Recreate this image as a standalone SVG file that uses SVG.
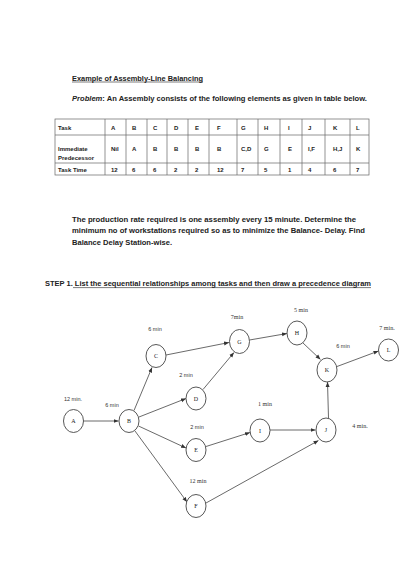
<svg xmlns="http://www.w3.org/2000/svg" width="406" height="575" viewBox="0 0 406 575">
<defs>
<style>
.t{font-family:"Liberation Sans",Arial,sans-serif;font-weight:bold;fill:#222;}
.h{font-size:7px;}
.tb{font-size:6px;}
.p{font-size:6.6px;}
.grid{stroke:#666;stroke-width:0.7;fill:none;}
.n{fill:#fff;stroke:#444;stroke-width:0.9;}
.nl{font-family:"Liberation Serif","Times New Roman",serif;font-size:6px;fill:#222;text-anchor:middle;}
.ms{font-family:"Liberation Serif","Times New Roman",serif;font-size:6px;fill:#333;text-anchor:middle;}
.mc{font-family:"Liberation Sans",Arial,sans-serif;font-size:5.5px;fill:#333;text-anchor:middle;}
.e{stroke:#444;stroke-width:0.8;fill:none;marker-end:url(#ah);}
.ul{stroke:#222;stroke-width:0.6;}
</style>
<marker id="ah" viewBox="0 0 10 10" refX="10" refY="5" markerWidth="5" markerHeight="5" orient="auto" markerUnits="userSpaceOnUse">
<path d="M0,1 L10,5 L0,9 z" fill="#333"/>
</marker>
</defs>
<rect width="406" height="575" fill="#fff"/>

<g id="header">
<text class="t h" x="72" y="80.5" textLength="131" lengthAdjust="spacingAndGlyphs">Example of Assembly-Line Balancing</text>
<line class="ul" x1="72" y1="82" x2="203" y2="82"/>
<text class="t h" x="72" y="100.5" textLength="295" lengthAdjust="spacingAndGlyphs"><tspan font-style="italic">Problem</tspan>:  An Assembly consists of the  following  elements as given in table below.</text>
</g>

<g id="table">
<rect class="grid" x="55" y="119" width="314" height="56"/>
<line class="grid" x1="55" y1="135" x2="369" y2="135"/>
<line class="grid" x1="55" y1="163" x2="369" y2="163"/>
<g class="grid">
<line x1="105" y1="119" x2="105" y2="175"/><line x1="126" y1="119" x2="126" y2="175"/>
<line x1="147" y1="119" x2="147" y2="175"/><line x1="167" y1="119" x2="167" y2="175"/>
<line x1="188" y1="119" x2="188" y2="175"/><line x1="209" y1="119" x2="209" y2="175"/>
<line x1="237" y1="119" x2="237" y2="175"/><line x1="258" y1="119" x2="258" y2="175"/>
<line x1="280" y1="119" x2="280" y2="175"/><line x1="302" y1="119" x2="302" y2="175"/>
<line x1="325" y1="119" x2="325" y2="175"/><line x1="350" y1="119" x2="350" y2="175"/>
</g>
<g class="t tb">
<text x="58" y="129.5">Task</text>
<text x="111" y="129.5">A</text><text x="132" y="129.5">B</text><text x="153" y="129.5">C</text>
<text x="174" y="129.5">D</text><text x="195" y="129.5">E</text><text x="217" y="129.5">F</text>
<text x="241" y="129.5">G</text><text x="264" y="129.5">H</text><text x="288" y="129.5">I</text>
<text x="308" y="129.5">J</text><text x="333" y="129.5">K</text><text x="356" y="129.5">L</text>
<text x="58" y="150.5">Immediate</text><text x="58" y="159.5">Predecessor</text>
<text x="111" y="150.5">Nil</text><text x="132" y="150.5">A</text><text x="153" y="150.5">B</text>
<text x="174" y="150.5">B</text><text x="195" y="150.5">B</text><text x="217" y="150.5">B</text>
<text x="241" y="150.5">C,D</text><text x="264" y="150.5">G</text><text x="288" y="150.5">E</text>
<text x="308" y="150.5">I,F</text><text x="333" y="150.5">H,J</text><text x="356" y="150.5">K</text>
<text x="58" y="171.5">Task Time</text>
<text x="111" y="171.5">12</text><text x="132" y="171.5">6</text><text x="153" y="171.5">6</text>
<text x="174" y="171.5">2</text><text x="195" y="171.5">2</text><text x="217" y="171.5">12</text>
<text x="241" y="171.5">7</text><text x="264" y="171.5">5</text><text x="288" y="171.5">1</text>
<text x="308" y="171.5">4</text><text x="333" y="171.5">6</text><text x="356" y="171.5">7</text>
</g>
</g>

<g id="problem-text">
<text class="t p" x="72" y="221.5" textLength="284" lengthAdjust="spacingAndGlyphs">The production rate required is  one assembly every  15 minute. Determine the</text>
<text class="t p" x="72" y="233" textLength="293" lengthAdjust="spacingAndGlyphs">minimum no of workstations required  so as to minimize the Balance- Delay. Find</text>
<text class="t p" x="72" y="244.5" textLength="100" lengthAdjust="spacingAndGlyphs">Balance Delay  Station-wise.</text>
</g>

<g id="step1">
<text class="t h" x="45" y="286" textLength="326" lengthAdjust="spacingAndGlyphs">STEP 1. List the sequential relationships among tasks and then draw a precedence diagram</text>
<line class="ul" x1="73" y1="287.6" x2="371" y2="287.6"/>
</g>

<g id="connectors">
<line class="e" x1="83.5" y1="421" x2="118.5" y2="421"/>
<line class="e" x1="134" y1="410.5" x2="152" y2="367.5"/>
<line class="e" x1="139" y1="417" x2="186" y2="398.5"/>
<line class="e" x1="138.5" y1="426" x2="186" y2="448"/>
<line class="e" x1="135" y1="431" x2="187" y2="502"/>
<line class="e" x1="166" y1="355" x2="229" y2="342.5"/>
<line class="e" x1="203" y1="389.5" x2="234" y2="352.5"/>
<line class="e" x1="249.5" y1="340" x2="287" y2="333.5"/>
<line class="e" x1="303" y1="343" x2="320.5" y2="359.5"/>
<line class="e" x1="337" y1="366.5" x2="378.5" y2="351"/>
<line class="e" x1="206" y1="446.5" x2="250" y2="432.5"/>
<line class="e" x1="270" y1="430" x2="315.5" y2="430"/>
<line class="e" x1="206" y1="503" x2="318.5" y2="440.5"/>
<line class="e" x1="328.5" y1="418" x2="327.5" y2="382"/>
</g>

<g id="labels">
<text class="mc" x="73" y="401">12 min.</text>
<text class="mc" x="112" y="407">6 min</text>
<text class="mc" x="155" y="331">6 min</text>
<text class="mc" x="186" y="377">2 min</text>
<text class="mc" x="197" y="428.5">2 min</text>
<text class="ms" x="198" y="483">12 min</text>
<text class="ms" x="237" y="319">7min</text>
<text class="ms" x="301" y="312">5 min</text>
<text class="mc" x="343" y="348">6 min</text>
<text class="ms" x="387" y="329.5">7 min.</text>
<text class="ms" x="265" y="406">1 min</text>
<text class="ms" x="360" y="428">4 min.</text>
</g>

<g id="node-A"><ellipse class="n" cx="73.5" cy="421" rx="10" ry="11.5"/><text class="nl" x="73.5" y="423">A</text></g>
<g id="node-B"><ellipse class="n" cx="129" cy="421" rx="10" ry="11.5"/><text class="nl" x="129" y="423">B</text></g>
<g id="node-C"><ellipse class="n" cx="156" cy="356" rx="10" ry="11.5"/><text class="nl" x="156" y="358">C</text></g>
<g id="node-D"><ellipse class="n" cx="196" cy="398.5" rx="10" ry="11.5"/><text class="nl" x="196" y="400.5">D</text></g>
<g id="node-E"><ellipse class="n" cx="196" cy="450" rx="10" ry="11.5"/><text class="nl" x="196" y="452">E</text></g>
<g id="node-F"><ellipse class="n" cx="196" cy="506" rx="10" ry="11.5"/><text class="nl" x="196" y="508">F</text></g>
<g id="node-G"><ellipse class="n" cx="239.5" cy="341.5" rx="10" ry="12"/><text class="nl" x="239.5" y="343.5">G</text></g>
<g id="node-H"><ellipse class="n" cx="297" cy="333" rx="10" ry="12"/><text class="nl" x="297" y="335">H</text></g>
<g id="node-K"><ellipse class="n" cx="327" cy="370" rx="10" ry="12"/><text class="nl" x="327" y="372">K</text></g>
<g id="node-L"><ellipse class="n" cx="388.5" cy="350" rx="10" ry="11"/><text class="nl" x="388.5" y="352">L</text></g>
<g id="node-I"><ellipse class="n" cx="260" cy="430.5" rx="10" ry="11.5"/><text class="nl" x="260" y="432.5">I</text></g>
<g id="node-J"><ellipse class="n" cx="326" cy="430" rx="10" ry="12"/><text class="nl" x="326" y="432">J</text></g>
</svg>
